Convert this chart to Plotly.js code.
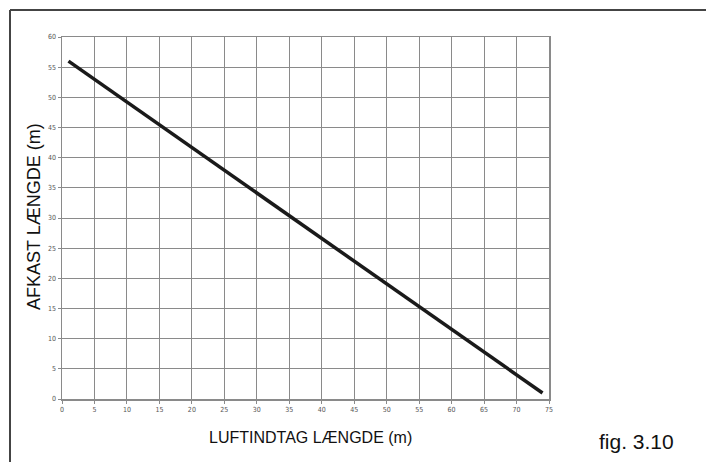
<!DOCTYPE html>
<html>
<head>
<meta charset="utf-8">
<script src="https://cdn.plot.ly/plotly-3.0.1.min.js"></script>
<style>html,body{margin:0;padding:0;background:#fff;}#chart{width:706px;height:462px;}</style>
</head>
<body>
<div id="chart"></div>
<script>
const luftindtag = [1, 74];
const afkast = [56, 1];
const xTicks = [0,5,10,15,20,25,30,35,40,45,50,55,60,65,70,75];
const yTicks = [0,5,10,15,20,25,30,35,40,45,50,55,60];
const xTitle = "LUFTINDTAG LÆNGDE (m)";
const yTitle = "AFKAST LÆNGDE (m)";
const figLabel = "fig. 3.10";

const trace = {
  x: luftindtag, y: afkast, mode: 'lines', type: 'scatter',
  line: {color: '#1a1a1a', width: 3.5}, hoverinfo: 'skip', showlegend: false
};

const W = 487, H = 362, L = 62, B = 399;
const px = v => (v - L) / W;
const py = v => (B - v) / H;

const layout = {
  width: 706, height: 462,
  margin: {l: 62, r: 157, t: 37, b: 63},
  paper_bgcolor: '#fff', plot_bgcolor: '#fff',
  font: {family: 'Liberation Sans, Arial, sans-serif', color: '#000'},
  xaxis: {
    range: [0, 75], tickvals: xTicks, ticktext: xTicks.map(String),
    showgrid: true, gridcolor: '#8a8a8a', gridwidth: 1,
    zeroline: false, showline: true, linecolor: '#8a8a8a', linewidth: 1.5, mirror: true,
    ticks: 'outside', ticklen: 3, tickcolor: '#8a8a8a',
    tickfont: {size: 7, color: '#555', family: 'DejaVu Sans Condensed, sans-serif'},
    fixedrange: true
  },
  yaxis: {
    range: [0, 60], tickvals: yTicks, ticktext: yTicks.map(String),
    showgrid: true, gridcolor: '#8a8a8a', gridwidth: 1,
    zeroline: false, showline: true, linecolor: '#8a8a8a', linewidth: 1.5, mirror: true,
    ticks: 'outside', ticklen: 3, tickcolor: '#8a8a8a',
    tickfont: {size: 7, color: '#555', family: 'DejaVu Sans Condensed, sans-serif'},
    fixedrange: true
  },
  shapes: [
    {type: 'line', xref: 'paper', yref: 'paper', x0: px(10), x1: px(712), y0: py(10), y1: py(10),
     line: {color: '#444', width: 2}},
    {type: 'line', xref: 'paper', yref: 'paper', x0: px(10), x1: px(10), y0: py(10), y1: py(470),
     line: {color: '#444', width: 2}}
  ],
  annotations: [
    {text: xTitle, xref: 'paper', yref: 'paper', x: px(310), y: py(437),
     xanchor: 'center', yanchor: 'middle', showarrow: false,
     font: {size: 16, color: '#111'}},
    {text: yTitle, xref: 'paper', yref: 'paper', x: px(34), y: py(217), textangle: -90,
     xanchor: 'center', yanchor: 'middle', showarrow: false,
     font: {size: 18, color: '#111'}},
    {text: figLabel, xref: 'paper', yref: 'paper', x: px(636), y: py(441),
     xanchor: 'center', yanchor: 'middle', showarrow: false,
     font: {size: 21, color: '#111'}}
  ]
};

Plotly.newPlot('chart', [trace], layout, {displayModeBar: false, staticPlot: true});
</script>
</body>
</html>
